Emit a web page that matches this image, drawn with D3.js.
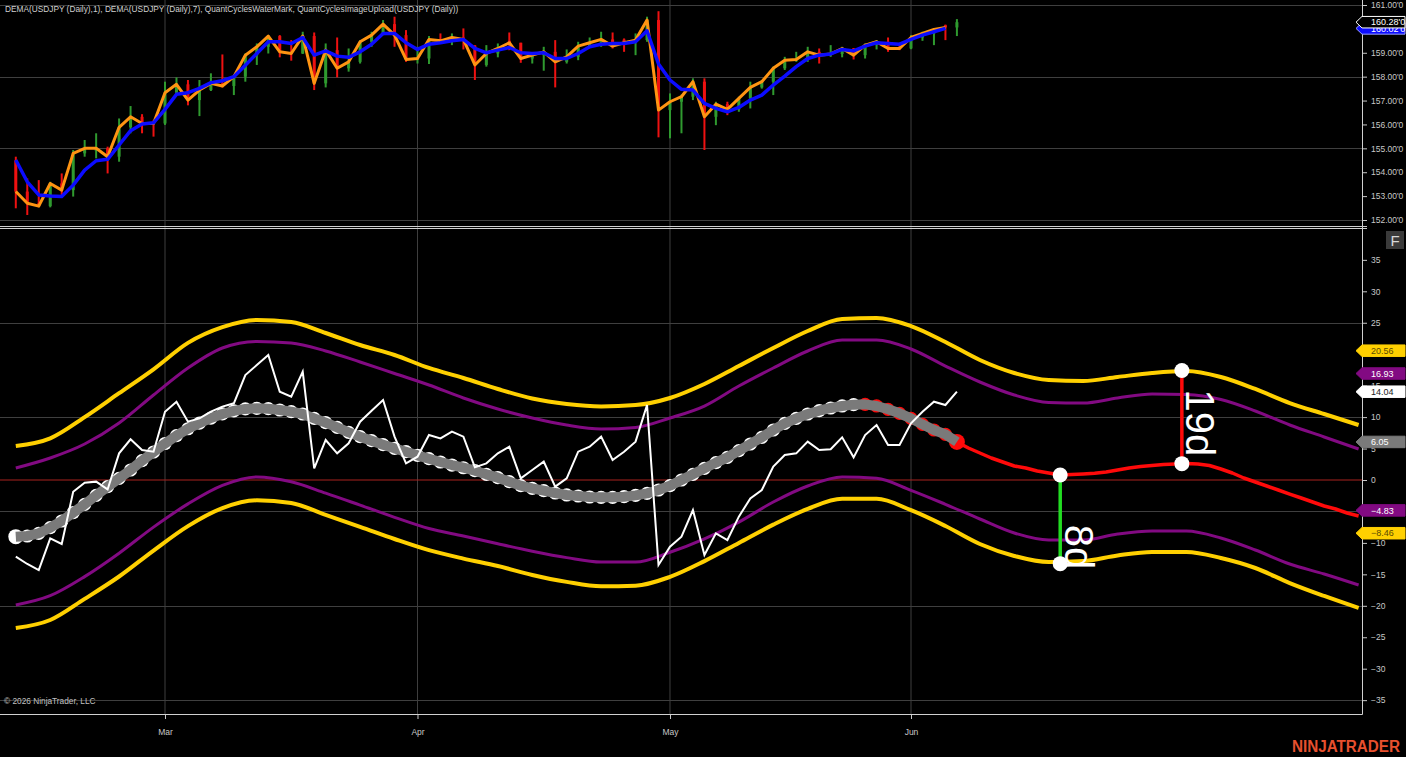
<!DOCTYPE html>
<html><head><meta charset="utf-8">
<script src="https://cdn.jsdelivr.net/npm/d3@7"></script>
<style>body{margin:0;background:#000;overflow:hidden}svg{display:block}</style>
</head><body><svg id="c" width="1406" height="757"></svg>
<script>
// ---------- DATA ----------
const titleText = "DEMA(USDJPY (Daily),1), DEMA(USDJPY (Daily),7), QuantCyclesWaterMark, QuantCyclesImageUpload(USDJPY (Daily))";
const monthLabels = ["Mar", "Apr", "May", "Jun"];
const monthBars = [13, 35, 57, 78];
const priceTicks = [152, 153, 154, 155, 156, 157, 158, 159, 160, 161];
const priceGrid = [152, 155, 158, 161];
const cycleTicks = [-35, -30, -25, -20, -15, -10, -5, 0, 5, 10, 15, 20, 25, 30, 35];
const cycleGrid = [-35, -20, -5, 10, 25];

const candleOpen = [154.50,153.19,152.70,152.58,153.53,153.25,154.79,154.90,155.00,154.65,
 155.88,156.32,156.10,156.04,157.33,157.68,157.02,157.44,157.72,157.61,
 158.00,158.90,159.25,159.70,159.04,158.97,159.70,157.72,159.11,158.35,
 158.62,159.46,159.74,160.20,159.74,158.72,158.76,159.56,159.50,159.64,
 159.30,158.49,158.97,159.50,159.42,158.76,158.90,159.04,158.62,158.83,
 159.28,159.42,159.56,159.55,159.42,159.53,160.37,156.60,156.95,157.16,
 157.79,156.32,156.85,156.63,157.09,157.55,157.79,158.35,158.69,158.72,
 159.04,158.90,158.95,159.18,158.90,159.32,159.46,159.25,159.18,159.64,
 159.81,160.15,160.06];
const candleHigh = [154.65,153.74,153.67,153.60,153.95,154.93,155.35,155.63,155.07,156.25,
 156.77,156.43,156.18,157.79,157.97,157.86,157.86,158.14,158.93,158.05,
 158.97,159.39,159.74,159.74,159.53,159.88,159.85,159.39,159.64,159.18,
 159.53,159.88,160.37,160.51,159.95,159.25,159.70,159.81,159.81,160.02,
 159.32,159.32,159.39,159.85,159.42,159.00,159.25,159.53,159.14,159.46,
 159.64,159.88,159.85,159.60,159.81,160.51,160.74,157.30,157.25,157.93,
 157.93,156.95,156.95,157.16,157.79,157.86,158.42,158.83,159.04,159.25,
 159.18,159.32,159.25,159.20,159.39,159.53,159.64,159.32,159.74,159.88,
 160.02,160.18,160.41];
const candleLow = [152.49,152.21,152.56,152.53,152.98,152.98,154.65,154.58,153.95,154.44,
 155.63,155.63,155.49,155.98,157.23,156.80,156.35,157.40,157.55,157.23,
 157.79,158.49,158.97,158.81,158.67,158.95,157.44,157.55,157.97,158.21,
 158.55,159.25,159.74,159.25,158.62,158.55,158.53,159.46,159.32,159.14,
 157.86,158.42,158.81,159.11,158.58,158.55,158.25,157.55,158.55,158.69,
 159.25,159.25,159.18,159.04,158.90,159.46,155.46,155.42,155.63,157.02,
 154.93,155.97,156.39,156.53,156.67,157.50,157.23,158.28,158.62,158.62,
 158.55,158.83,158.81,158.72,158.76,159.14,159.04,159.11,159.15,159.50,
 159.32,159.53,159.70];
const candleClose = [153.19,152.70,152.58,153.53,153.25,154.79,155.00,155.00,154.65,155.88,
 156.32,156.04,156.04,157.33,157.68,157.02,157.44,157.72,157.61,158.00,
 158.90,159.25,159.70,159.04,158.97,159.70,157.72,159.11,158.35,158.62,
 159.46,159.74,160.20,159.74,158.72,158.76,159.56,159.50,159.64,159.56,
 158.49,158.97,159.18,159.42,158.76,158.90,159.04,158.62,158.83,159.28,
 159.42,159.56,159.28,159.42,159.53,160.37,156.60,156.95,157.16,157.79,
 156.32,156.85,156.63,157.09,157.55,157.79,158.35,158.69,158.72,159.04,
 158.90,158.95,159.18,158.90,159.32,159.46,159.18,159.18,159.64,159.81,
 159.98,160.06,160.28];
// DEMA(1) plotted up to bar 81
const dema1 = candleClose.slice(0, 82);
const dema7 = [154.51,153.60,153.05,153.00,152.98,153.46,154.09,154.48,154.54,155.14,
 155.74,156.02,156.07,156.63,157.26,157.33,157.51,157.75,157.83,158.00,
 158.48,158.97,159.46,159.46,159.39,159.64,158.90,159.08,158.86,158.81,
 159.04,159.36,159.81,159.81,159.42,159.14,159.36,159.42,159.50,159.56,
 159.18,159.00,159.11,159.22,159.00,158.97,159.00,158.76,158.76,158.97,
 159.25,159.36,159.39,159.39,159.46,159.92,158.53,157.86,157.47,157.44,
 156.88,156.67,156.53,156.71,157.02,157.23,157.65,158.02,158.42,158.76,
 158.90,158.95,159.14,159.08,159.28,159.42,159.39,159.36,159.56,159.74,
 159.88,160.02];

const oscillator = [-12.19,-13.35,-14.31,-9.27,-10.17,-1.86,-0.42,-0.26,-1.5,4.24,
 6.47,4.77,4.50,10.86,12.45,9.27,9.8,10.86,11.66,12.19,
 16.69,18.28,19.87,14.04,13.25,17.22,1.86,6.36,4.24,5.83,
 9.27,11.02,12.72,6.89,2.65,3.71,7.15,6.62,7.68,6.89,
 2.01,2.65,4.24,5.30,0.27,1.59,2.92,-1.06,0.27,4.50,
 5.30,6.89,3.18,4.50,6.10,11.92,-13.51,-10.60,-9.01,-4.77,
 -11.92,-8.48,-9.54,-5.83,-2.92,-1.59,2.12,3.97,4.24,6.10,
 4.77,4.88,6.78,3.60,7.15,8.74,5.56,5.56,9.01,10.86,
 12.45,11.92,14.04];
const cycle = [-9.01,-8.90,-8.48,-7.58,-6.52,-5.19,-3.87,-2.44,-1.06,0.26,
 1.59,3.07,4.45,5.80,7.05,8.15,9.05,9.85,10.50,11.00,
 11.30,11.40,11.34,11.13,10.86,10.49,9.80,9.11,8.37,7.58,
 6.89,6.25,5.62,5.03,4.50,3.92,3.39,2.86,2.38,1.95,
 1.48,0.90,0.37,-0.27,-0.90,-1.33,-1.70,-2.07,-2.38,-2.54,
 -2.70,-2.75,-2.75,-2.65,-2.44,-2.12,-1.59,-0.90,0.00,0.90,
 1.85,2.76,3.60,4.66,5.72,6.78,7.95,9.01,9.80,10.49,
 11.02,11.45,11.77,11.98,12.03,11.77,11.24,10.60,9.80,8.85,
 7.95,7.26,6.05];
const cycleRedFrom = 74;
const projectionStart = 82;
const projection = [6.05,5.09,4.29,3.50,2.86,2.23,1.91,1.43,1.11,0.79,
 0.87,0.95,1.07,1.27,1.59,1.91,2.15,2.31,2.46,2.54,
 2.62,2.54,2.31,1.75,1.11,0.32,-0.32,-0.95,-1.59,-2.23,
 -2.86,-3.50,-4.13,-4.61,-5.25,-5.72];

const bandBars = [0,3,6,9,12,15,18,21,24,27,30,33,36,39,42,45,48,51,54,57,
 60,63,66,69,72,75,78,81,84,87,90,93,96,99,102,105,108,111,114,117];
const yellowUpper = [5.41,6.63,10.0,13.8,17.6,21.8,24.3,25.44,25.12,23.37,
 21.46,19.87,17.81,16.22,14.47,12.96,12.08,11.69,11.92,13.04,
 15.26,18.12,20.99,23.69,25.60,25.76,24.48,21.94,19.08,17.01,
 15.90,15.74,16.38,17.01,17.33,16.38,14.47,12.24,10.49,8.74];
const purpleUpper = [1.91,3.50,5.72,9.06,13.51,17.81,20.99,22.02,21.78,20.51,
 18.76,16.93,15.10,13.04,11.29,9.86,8.74,8.11,8.35,9.86,
 11.76,14.94,17.81,20.51,22.26,22.26,20.83,18.12,15.58,13.51,
 12.32,12.24,13.04,13.67,13.59,12.80,10.97,8.74,6.84,4.93];
const purpleLower = [-19.87,-18.40,-15.36,-11.64,-7.49,-3.80,-0.86,0.48,-0.29,-2.09,
 -4.00,-5.93,-7.71,-8.90,-10.14,-11.32,-12.34,-13.05,-13.05,-11.49,
 -9.36,-6.69,-3.50,-0.95,0.49,0.27,-1.64,-3.86,-6.20,-8.43,
 -9.54,-9.54,-8.59,-8.11,-8.11,-9.22,-11.13,-13.35,-14.94,-16.69];
const yellowLower = [-23.53,-22.26,-18.90,-15.34,-11.21,-7.33,-4.47,-3.23,-3.66,-5.55,
 -7.44,-9.38,-11.16,-12.50,-13.67,-15.10,-16.20,-16.90,-16.80,-15.40,
 -12.90,-10.00,-7.10,-4.60,-3.00,-3.00,-4.80,-7.31,-10.17,-12.08,
 -13.04,-12.88,-12.00,-11.45,-11.45,-12.40,-13.99,-16.38,-18.44,-20.35];

// cycle length markers
const markerBars = [91, 101.6];
const markerTop = [0.79, 17.4];
const markerBottom = [-13.3, 2.6];
const markerLabels = ["8d", "19d"];

// last-value labels on the lower axis
const lastValues = [20.56, 16.93, 14.04, 6.05, -4.83, -8.46];
const lastValueKinds = ["yellow", "purple", "white", "grey", "purple", "yellow"];
const priceLastClose = 160.28;
const priceLastDema7 = 160.02;

// ---------- LAYOUT ----------
const W = 1406, H = 757;
const axisX = 1362;
const bottomAxisY = 714;
const FONT = "'Liberation Sans', Arial, sans-serif";
const svg = d3.select("#c");
svg.append("rect").attr("width", W).attr("height", H).attr("fill", "#000");

const x = d3.scaleLinear().domain([0, 117]).range([15.8, 15.8 + 11.477 * 117]);
const yTop = d3.scaleLinear().domain([152, 161]).range([220, 5]);
const yBot = d3.scaleLinear().domain([-35, 35]).range([700.15, 259.85]);

const gridColor = "#3f3f3f";
svg.append("g").selectAll("line").data(monthBars).join("line")
  .attr("x1", d => x(d)).attr("x2", d => x(d)).attr("y1", 0).attr("y2", bottomAxisY)
  .attr("stroke", gridColor).attr("stroke-width", 1);
svg.append("g").selectAll("line").data(priceGrid).join("line")
  .attr("x1", 0).attr("x2", axisX).attr("y1", d => Math.round(yTop(d)) + 0.5).attr("y2", d => Math.round(yTop(d)) + 0.5)
  .attr("stroke", gridColor);
svg.append("g").selectAll("line").data(cycleGrid).join("line")
  .attr("x1", 0).attr("x2", axisX).attr("y1", d => Math.round(yBot(d)) + 0.5).attr("y2", d => Math.round(yBot(d)) + 0.5)
  .attr("stroke", gridColor);

[226.5, 228.5].forEach(yy => svg.append("line").attr("x1", 0).attr("x2", axisX + 5).attr("y1", yy).attr("y2", yy)
  .attr("stroke", "#d0d0d0").attr("stroke-width", 1));

const tickCol = "#c8c8c8";
const gTopAxis = svg.append("g").attr("transform", `translate(${axisX},0)`)
  .call(d3.axisRight(yTop).tickValues(priceTicks).tickSize(5).tickPadding(4)
    .tickFormat(d => d3.format(".2f")(d) + "'0"));
const gBotAxis = svg.append("g").attr("transform", `translate(${axisX},0)`)
  .call(d3.axisRight(yBot).tickValues(cycleTicks).tickSize(5).tickPadding(4).tickFormat(d3.format("d")));
const gXAxis = svg.append("g").attr("transform", `translate(0,${bottomAxisY})`)
  .call(d3.axisBottom(x).tickValues(monthBars).tickSize(5).tickPadding(10).tickFormat((d, i) => monthLabels[i]));
[gTopAxis, gBotAxis, gXAxis].forEach(g => {
  g.select(".domain").remove();
  g.selectAll(".tick line").attr("stroke", tickCol);
  g.selectAll(".tick text").attr("fill", tickCol).attr("font-family", FONT).attr("font-size", 8.5);
});
svg.append("line").attr("x1", axisX + 0.5).attr("x2", axisX + 0.5).attr("y1", 0).attr("y2", bottomAxisY + 0.5)
  .attr("stroke", "#d0d0d0");
svg.append("line").attr("x1", 0).attr("x2", axisX + 0.5).attr("y1", bottomAxisY + 0.5).attr("y2", bottomAxisY + 0.5)
  .attr("stroke", "#d0d0d0");

svg.append("line").attr("x1", 0).attr("x2", axisX).attr("y1", yBot(0)).attr("y2", yBot(0))
  .attr("stroke", "#a8231e").attr("stroke-width", 1.2);

// ---------- TOP PANEL ----------
const candles = candleClose.map((c, i) => ({ i, o: candleOpen[i], h: candleHigh[i], l: candleLow[i], c }));
const gC = svg.append("g");
gC.selectAll("line").data(candles).join("line")
  .attr("x1", d => x(d.i)).attr("x2", d => x(d.i))
  .attr("y1", d => yTop(d.h)).attr("y2", d => yTop(d.l))
  .attr("stroke", d => d.c >= d.o ? "#2f9a2f" : "#ee1111").attr("stroke-width", 2);
gC.selectAll("rect").data(candles).join("rect")
  .attr("x", d => x(d.i) - 1.5).attr("width", 3)
  .attr("y", d => yTop(Math.max(d.o, d.c))).attr("height", d => Math.max(1, Math.abs(yTop(d.o) - yTop(d.c))))
  .attr("fill", d => d.c >= d.o ? "#2f9a2f" : "#ee1111");

const lineTop = d3.line().x((d, i) => x(i)).y(d => yTop(d));
svg.append("path").attr("d", lineTop(dema1)).attr("fill", "none").attr("stroke", "#ff9412")
  .attr("stroke-width", 3).attr("stroke-linejoin", "round");
svg.append("path").attr("d", lineTop(dema7)).attr("fill", "none").attr("stroke", "#0c0cff")
  .attr("stroke-width", 3.5).attr("stroke-linejoin", "round");

// ---------- BOTTOM PANEL ----------
const bandLine = d3.line().x((d, i) => x(bandBars[i])).y(d => yBot(d)).curve(d3.curveMonotoneX);
[[yellowUpper, "#ffd000", 4], [yellowLower, "#ffd000", 4], [purpleUpper, "#820a82", 3], [purpleLower, "#820a82", 3]]
  .forEach(([arr, col, w]) => svg.append("path").attr("d", bandLine(arr)).attr("fill", "none")
    .attr("stroke", col).attr("stroke-width", w));

const cyc = cycle.map((v, i) => ({ i, v }));
const gB = svg.append("g");
gB.selectAll("circle").data(cyc).join("circle")
  .attr("cx", d => x(d.i)).attr("cy", d => yBot(d.v))
  .attr("r", d => d.i === 0 ? 7.5 : (d.i === cycle.length - 1 ? 8 : 6.6))
  .attr("fill", d => d.i >= cycleRedFrom ? "#ff0a0a" : "#ffffff");
svg.append("path")
  .attr("d", d3.line().x((d, i) => x(projectionStart + i)).y(d => yBot(d))(projection))
  .attr("fill", "none").attr("stroke", "#ff0a0a").attr("stroke-width", 3.5).attr("stroke-linejoin", "round");
svg.append("path").attr("d", d3.line().x((d, i) => x(i)).y(d => yBot(d))(cycle))
  .attr("fill", "none").attr("stroke", "#7a7a7a").attr("stroke-width", 10).attr("stroke-linejoin", "round");

svg.append("path").attr("d", d3.line().x((d, i) => x(i)).y(d => yBot(d))(oscillator))
  .attr("fill", "none").attr("stroke", "#ffffff").attr("stroke-width", 2).attr("stroke-linejoin", "miter");

const markerColors = ["#22dd22", "#ff0a0a"];
const gM = svg.append("g");
markerBars.forEach((b, k) => {
  const mx = x(b), y1 = yBot(markerTop[k]), y2 = yBot(markerBottom[k]);
  gM.append("line").attr("x1", mx).attr("x2", mx).attr("y1", y1).attr("y2", y2)
    .attr("stroke", markerColors[k]).attr("stroke-width", 3.5);
  [y1, y2].forEach(yy => gM.append("circle").attr("cx", mx).attr("cy", yy).attr("r", 7.5).attr("fill", "#fff"));
  const ty = k === 0 ? y2 - 39 : y1 + 19;
  gM.append("text").attr("transform", `translate(${mx + 4.5},${ty}) rotate(90)`)
    .attr("fill", "#fff").attr("font-family", FONT).attr("font-size", 40).text(markerLabels[k]);
});

// ---------- LABELS ----------
function flag(g, cy, fill, stroke, txtCol, txt) {
  const tip = 1356, x1 = 1362, x2 = 1405, h = 11.5;
  g.append("path").attr("d", `M${tip},${cy}L${x1},${cy - h / 2}L${x2},${cy - h / 2}L${x2},${cy + h / 2}L${x1},${cy + h / 2}Z`)
    .attr("fill", fill).attr("stroke", stroke).attr("stroke-width", 1);
  g.append("text").attr("x", 1371).attr("y", cy + 3.2).attr("fill", txtCol)
    .attr("font-family", FONT).attr("font-size", 9).text(txt);
}
const kindStyle = {
  yellow: ["#ffd000", "#ffd000", "#5a4a00"],
  purple: ["#820a82", "#820a82", "#ffffff"],
  white: ["#ffffff", "#ffffff", "#222222"],
  grey: ["#7a7a7a", "#7a7a7a", "#ffffff"]
};
const gL = svg.append("g");
lastValues.forEach((v, i) => {
  const s = kindStyle[lastValueKinds[i]];
  flag(gL, yBot(v), s[0], s[1], s[2], d3.format(".2f")(v));
});
flag(gL, yTop(priceLastDema7), "#0c0cff", "#9aa0ff", "#ffffff", d3.format(".2f")(priceLastDema7) + "'0");
flag(gL, yTop(priceLastClose), "#000000", "#ffffff", "#ffffff", d3.format(".2f")(priceLastClose) + "'0");

svg.append("rect").attr("x", 1386).attr("y", 231).attr("width", 18).attr("height", 18).attr("fill", "#3a3a3a");
svg.append("text").attr("x", 1395).attr("y", 246).attr("text-anchor", "middle").attr("fill", "#d8d8d8")
  .attr("font-family", FONT).attr("font-size", 15).text("F");

svg.append("text").attr("x", 5).attr("y", 12).attr("fill", "#d0d0d0").attr("font-family", FONT)
  .attr("font-size", 8.3).text(titleText);
svg.append("text").attr("x", 4).attr("y", 704).attr("fill", "#c0c0c0").attr("font-family", FONT)
  .attr("font-size", 8.3).text("© 2026 NinjaTrader, LLC");
svg.append("text").attr("x", 1292).attr("y", 752).attr("fill", "#e8502e").attr("font-family", FONT)
  .attr("font-weight", "bold").attr("font-size", 16).attr("textLength", 108)
  .attr("lengthAdjust", "spacingAndGlyphs").text("NINJATRADER");
</script></body></html>
